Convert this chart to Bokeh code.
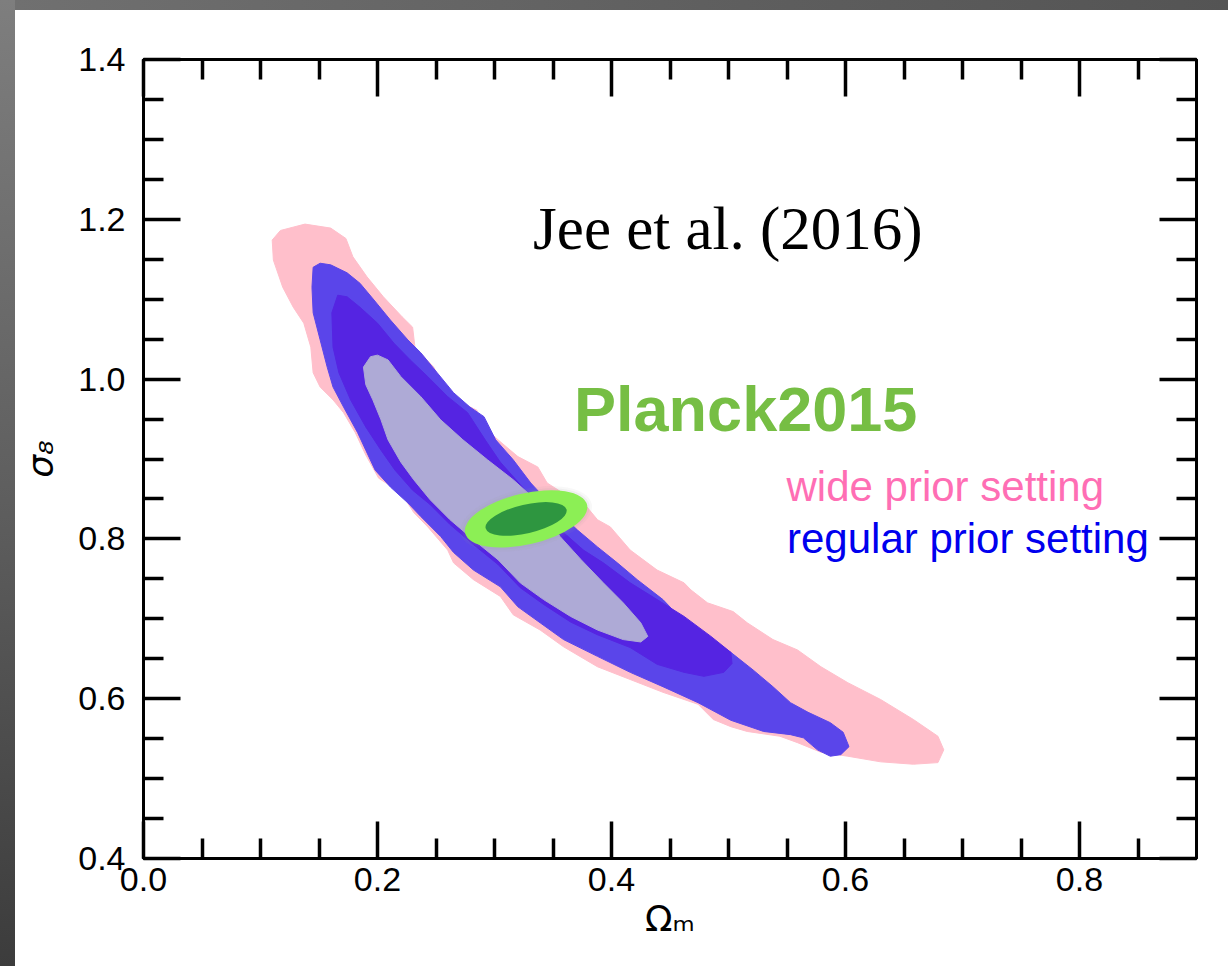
from bokeh.plotting import figure
from bokeh.models import (LinearAxis, FixedTicker, PrintfTickFormatter, Label, Div)
from bokeh.layouts import row, column
from bokeh.embed import file_html
from bokeh.resources import INLINE

# ---------------- data (Omega_m, sigma_8) ----------------
wide95_om = [0.110, 0.111, 0.119, 0.128, 0.137, 0.143, 0.145, 0.151, 0.162, 0.171,
             0.181, 0.190, 0.201, 0.220, 0.231, 0.243, 0.260, 0.265, 0.282, 0.305,
             0.316, 0.339, 0.359, 0.388, 0.416, 0.444, 0.474, 0.487, 0.502, 0.516,
             0.544, 0.559, 0.579, 0.602, 0.630, 0.658, 0.679, 0.684, 0.679, 0.658,
             0.630, 0.602, 0.579, 0.559, 0.538, 0.516, 0.504, 0.482, 0.468, 0.462,
             0.439, 0.416, 0.399, 0.388, 0.379, 0.361, 0.345, 0.337, 0.320, 0.303,
             0.288, 0.285, 0.271, 0.260, 0.248, 0.232, 0.230, 0.221, 0.205, 0.191,
             0.179, 0.173, 0.160, 0.138, 0.117]
wide95_s8 = [1.174, 1.149, 1.115, 1.090, 1.070, 1.040, 1.008, 0.990, 0.974, 0.958,
             0.933, 0.905, 0.876, 0.858, 0.833, 0.815, 0.786, 0.770, 0.749, 0.728,
             0.705, 0.686, 0.665, 0.640, 0.624, 0.608, 0.593, 0.574, 0.565, 0.559,
             0.553, 0.545, 0.533, 0.528, 0.521, 0.518, 0.520, 0.536, 0.553, 0.574,
             0.599, 0.620, 0.640, 0.661, 0.674, 0.695, 0.709, 0.720, 0.736, 0.745,
             0.761, 0.786, 0.815, 0.824, 0.840, 0.855, 0.870, 0.890, 0.903, 0.924,
             0.945, 0.961, 0.971, 0.983, 1.015, 1.040, 1.065, 1.078, 1.103, 1.128,
             1.153, 1.176, 1.189, 1.194, 1.186]

reg95_om = [0.145, 0.144, 0.145, 0.151, 0.157, 0.162, 0.171, 0.183, 0.190, 0.198,
            0.211, 0.226, 0.237, 0.254, 0.265, 0.282, 0.305, 0.320, 0.339, 0.359,
            0.388, 0.416, 0.444, 0.474, 0.502, 0.530, 0.553, 0.564, 0.576, 0.587,
            0.596, 0.603, 0.598, 0.587, 0.568, 0.553, 0.538, 0.521, 0.502, 0.476,
            0.459, 0.444, 0.422, 0.405, 0.388, 0.371, 0.348, 0.331, 0.316, 0.301,
            0.291, 0.279, 0.265, 0.251, 0.237, 0.226, 0.211, 0.197, 0.185, 0.174,
            0.160, 0.151]
reg95_s8 = [1.140, 1.115, 1.083, 1.049, 1.015, 0.990, 0.965, 0.933, 0.911, 0.886,
            0.865, 0.845, 0.828, 0.803, 0.783, 0.761, 0.740, 0.715, 0.695, 0.674,
            0.653, 0.633, 0.615, 0.595, 0.573, 0.559, 0.555, 0.551, 0.536, 0.528,
            0.530, 0.540, 0.558, 0.570, 0.583, 0.595, 0.615, 0.636, 0.658, 0.683,
            0.701, 0.724, 0.749, 0.770, 0.790, 0.811, 0.843, 0.870, 0.899, 0.924,
            0.953, 0.965, 0.983, 1.008, 1.033, 1.049, 1.074, 1.099, 1.120, 1.133,
            1.143, 1.145]

reg68_om = [0.166, 0.161, 0.162, 0.167, 0.177, 0.190, 0.203, 0.215, 0.230, 0.245,
            0.262, 0.282, 0.303, 0.322, 0.342, 0.365, 0.388, 0.416, 0.439, 0.462,
            0.479, 0.496, 0.503, 0.502, 0.485, 0.462, 0.439, 0.416, 0.393, 0.376,
            0.359, 0.339, 0.322, 0.305, 0.292, 0.277, 0.260, 0.243, 0.228, 0.214,
            0.200, 0.185, 0.174]
reg68_s8 = [1.105, 1.083, 1.040, 1.008, 0.974, 0.940, 0.911, 0.886, 0.861, 0.843,
            0.818, 0.793, 0.768, 0.739, 0.718, 0.696, 0.680, 0.664, 0.643, 0.633,
            0.628, 0.633, 0.644, 0.658, 0.678, 0.703, 0.724, 0.745, 0.770, 0.786,
            0.808, 0.839, 0.868, 0.896, 0.924, 0.958, 0.978, 1.003, 1.024, 1.045,
            1.070, 1.090, 1.103]

inner_om = [0.188, 0.194, 0.200, 0.209, 0.220, 0.237, 0.254, 0.273, 0.294, 0.316,
            0.335, 0.356, 0.374, 0.393, 0.410, 0.425, 0.431, 0.425, 0.410, 0.388,
            0.365, 0.342, 0.322, 0.303, 0.282, 0.262, 0.245, 0.231, 0.220, 0.209,
            0.203, 0.196, 0.190]
inner_s8 = [1.015, 1.028, 1.030, 1.024, 1.003, 0.978, 0.949, 0.924, 0.899, 0.874,
            0.849, 0.803, 0.774, 0.745, 0.720, 0.695, 0.678, 0.671, 0.674, 0.686,
            0.703, 0.724, 0.745, 0.774, 0.799, 0.824, 0.849, 0.874, 0.896, 0.924,
            0.949, 0.974, 0.993]

planck_om = [0.327]
planck_s8 = [0.825]

x_ticks = [0.0, 0.2, 0.4, 0.6, 0.8]
x_minor = [0.05, 0.10, 0.15, 0.25, 0.30, 0.35, 0.45, 0.50, 0.55, 0.65, 0.70, 0.75, 0.85]
y_ticks = [0.4, 0.6, 0.8, 1.0, 1.2, 1.4]
y_minor = [0.45, 0.50, 0.55, 0.65, 0.70, 0.75, 0.85, 0.90, 0.95, 1.05, 1.10, 1.15,
           1.25, 1.30, 1.35]

# ---------------- figure ----------------
p = figure(width=1213, height=956, x_range=(0.0, 0.9), y_range=(0.4, 1.4),
           output_backend="svg", toolbar_location=None, title=None,
           min_border_left=128, min_border_top=49, min_border_right=32,
           min_border_bottom=108)
p.background_fill_color = "white"
p.border_fill_color = "white"
p.outline_line_color = "black"
p.outline_line_width = 3
p.xgrid.visible = False
p.ygrid.visible = False

p.patch(wide95_om, wide95_s8, fill_color="#ffbfcb", line_color="#ffbfcb", line_width=1)
p.patch(reg95_om, reg95_s8, fill_color="#5a45ea", line_color="#5a45ea", line_width=1)
p.patch(reg68_om, reg68_s8, fill_color="#5524e2", line_color="#5524e2", line_width=1)
p.patch(inner_om, inner_s8, fill_color="#aeaad6", line_color="#aeaad6", line_width=1)

ang = 0.227
p.ellipse(planck_om, planck_s8, width=0.115, height=0.075, angle=ang,
          fill_color="#999999", fill_alpha=0.07, line_color=None)
p.ellipse(planck_om, planck_s8, width=0.111, height=0.069, angle=ang,
          fill_color="#999999", fill_alpha=0.10, line_color=None)
p.ellipse(planck_om, planck_s8, width=0.107, height=0.064, angle=ang,
          fill_color="#8cef55", line_color=None)
p.ellipse(planck_om, planck_s8, width=0.071, height=0.036, angle=ang,
          fill_color="#2e9640", line_color=None)

# ---------------- axes ----------------
fmt = PrintfTickFormatter(format="%.1f")


def style_axis(ax, show_labels):
    ax.axis_line_width = 3
    ax.axis_line_color = "black"
    ax.major_tick_in = 37
    ax.major_tick_out = 0
    ax.minor_tick_in = 20
    ax.minor_tick_out = 0
    ax.major_tick_line_width = 3.5
    ax.minor_tick_line_width = 3.5
    ax.major_tick_line_color = "black"
    ax.minor_tick_line_color = "black"
    ax.major_label_text_font = "Liberation Sans"
    ax.major_label_text_color = "black"
    if show_labels:
        ax.major_label_text_font_size = "34px"
    else:
        ax.major_label_text_font_size = "0px"
        ax.major_label_text_alpha = 0


xa = p.xaxis[0]
xa.ticker = FixedTicker(ticks=x_ticks, minor_ticks=x_minor)
xa.formatter = fmt
style_axis(xa, True)
xa.major_label_standoff = 9
xa.axis_label = "\u03a9\u2098"
xa.axis_label_text_font = "DejaVu Sans"
xa.axis_label_text_font_size = "36px"
xa.axis_label_text_font_style = "normal"
xa.axis_label_text_color = "black"
xa.axis_label_standoff = 4

ya = p.yaxis[0]
ya.ticker = FixedTicker(ticks=y_ticks, minor_ticks=y_minor)
ya.formatter = fmt
style_axis(ya, True)
ya.major_label_standoff = 18
ya.axis_label = "\u03c3\u2088"
ya.axis_label_text_font = "DejaVu Sans"
ya.axis_label_text_font_size = "36px"
ya.axis_label_text_font_style = "italic"
ya.axis_label_text_color = "black"
ya.axis_label_standoff = 14

top = LinearAxis(ticker=FixedTicker(ticks=x_ticks, minor_ticks=x_minor), formatter=fmt)
style_axis(top, False)
p.add_layout(top, "above")
right = LinearAxis(ticker=FixedTicker(ticks=y_ticks, minor_ticks=y_minor), formatter=fmt)
style_axis(right, False)
p.add_layout(right, "right")

# ---------------- annotations ----------------
p.add_layout(Label(x=0.333, y=1.189, text="Jee et al. (2016)", text_font="Liberation Serif",
                   text_font_size="61px", text_color="black", text_baseline="alphabetic"))
p.add_layout(Label(x=0.368, y=0.963, text="Planck2015", text_font="Liberation Sans",
                   text_font_size="63px", text_font_style="bold", text_color="#76be44",
                   text_baseline="alphabetic"))
p.add_layout(Label(x=0.5496, y=0.866, text="wide prior setting", text_font="Liberation Sans",
                   text_font_size="42px", text_color="#ff6eb4", text_baseline="alphabetic"))
p.add_layout(Label(x=0.550, y=0.800, text="regular prior setting", text_font="Liberation Sans",
                   text_font_size="42px", text_color="#0000ee", text_baseline="alphabetic"))

# ---------------- gray frame ----------------
left_strip = Div(text="", width=15, height=966, margin=0,
                 styles={"background": "linear-gradient(180deg, #7e7e7e 0%, #5c5c5c 55%, #3c3c3c 100%)"})
top_strip = Div(text="", width=1213, height=10, margin=0,
                styles={"background": "linear-gradient(90deg, #707070 0%, #5e5e5e 60%, #545454 100%)"})
layout = row(left_strip, column(top_strip, p, spacing=0), spacing=0)

open("out.html", "w").write(file_html(layout, INLINE))
